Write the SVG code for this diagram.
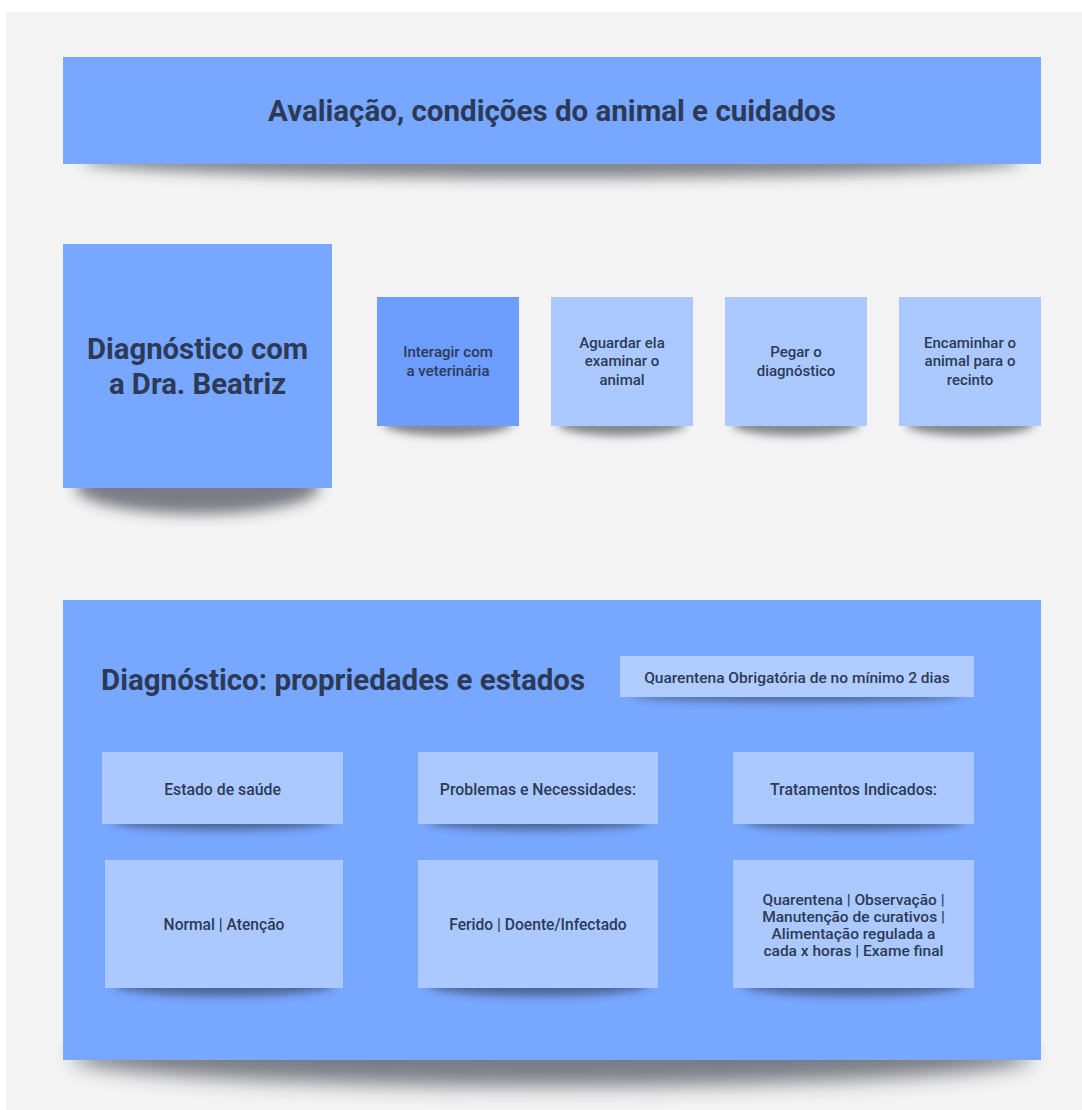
<svg xmlns="http://www.w3.org/2000/svg" width="1082" height="1110" viewBox="0 0 1082 1110">
  <defs>
    <style>
      .t { font-family: Roboto, "Liberation Sans", sans-serif; fill: #2c3a57; text-anchor: middle; }
      .h { font-weight: 700; }
      .m { font-weight: 500; }
      .blue { fill: #78a7ff; }
      .deep { fill: #6d9dff; }
      .pale { fill: #abc9ff; }
      .shade { fill: #2a2f3d; }
    </style>
    <filter id="blur-s" x="-20%" y="-100%" width="140%" height="300%">
      <feGaussianBlur stdDeviation="4"/>
    </filter>
    <filter id="blur-m" x="-20%" y="-100%" width="140%" height="300%">
      <feGaussianBlur stdDeviation="7"/>
    </filter>
    <filter id="blur-l" x="-20%" y="-100%" width="140%" height="300%">
      <feGaussianBlur stdDeviation="10"/>
    </filter>
  </defs>

  <!-- canvas -->
  <rect x="0" y="0" width="1082" height="1110" fill="#ffffff"/>
  <rect x="6" y="12" width="1076" height="1098" fill="#f3f3f3"/>

  <!-- banner -->
  <g id="banner">
    <ellipse class="shade" cx="552" cy="161" rx="470" ry="17" opacity="0.55" filter="url(#blur-m)"/>
    <rect class="blue" x="63" y="57" width="978" height="107"/>
    <text class="t h" x="552" y="121" font-size="29.5">Avaliação, condições do animal e cuidados</text>
  </g>

  <!-- main step -->
  <g id="diagnostico-dra">
    <ellipse class="shade" cx="197.5" cy="487" rx="122" ry="27" opacity="0.6" filter="url(#blur-m)"/>
    <rect class="blue" x="63" y="244" width="269" height="244"/>
    <text class="t h" x="197.5" y="359" font-size="29.3">Diagnóstico com</text>
    <text class="t h" x="197.5" y="394" font-size="29.3">a Dra. Beatriz</text>
  </g>

  <!-- steps -->
  <g id="interagir">
    <ellipse class="shade" cx="448" cy="424" rx="64" ry="12" opacity="0.55" filter="url(#blur-s)"/>
    <rect class="deep" x="377" y="297" width="142" height="129"/>
    <text class="t m" x="448" y="357" font-size="15">Interagir com</text>
    <text class="t m" x="448" y="375.5" font-size="15">a veterinária</text>
  </g>
  <g id="aguardar">
    <ellipse class="shade" cx="622" cy="424" rx="64" ry="12" opacity="0.55" filter="url(#blur-s)"/>
    <rect class="pale" x="551" y="297" width="142" height="129"/>
    <text class="t m" x="622" y="347.5" font-size="15">Aguardar ela</text>
    <text class="t m" x="622" y="366" font-size="15">examinar o</text>
    <text class="t m" x="622" y="384.5" font-size="15">animal</text>
  </g>
  <g id="pegar">
    <ellipse class="shade" cx="796" cy="424" rx="64" ry="12" opacity="0.55" filter="url(#blur-s)"/>
    <rect class="pale" x="725" y="297" width="142" height="129"/>
    <text class="t m" x="796" y="357" font-size="15">Pegar o</text>
    <text class="t m" x="796" y="375.5" font-size="15">diagnóstico</text>
  </g>
  <g id="encaminhar">
    <ellipse class="shade" cx="970" cy="424" rx="64" ry="12" opacity="0.55" filter="url(#blur-s)"/>
    <rect class="pale" x="899" y="297" width="142" height="129"/>
    <text class="t m" x="970" y="347.5" font-size="15">Encaminhar o</text>
    <text class="t m" x="970" y="366" font-size="15">animal para o</text>
    <text class="t m" x="970" y="384.5" font-size="15">recinto</text>
  </g>

  <!-- properties panel -->
  <g id="propriedades">
    <ellipse class="shade" cx="552" cy="1057" rx="480" ry="29" opacity="0.6" filter="url(#blur-l)"/>
    <rect class="blue" x="63" y="600" width="978" height="460"/>
    <text class="t h" x="101" y="690" font-size="29.5" style="text-anchor:start">Diagnóstico: propriedades e estados</text>
  </g>

  <g id="quarentena">
    <ellipse class="shade" cx="797" cy="695" rx="165" ry="7" opacity="0.5" filter="url(#blur-s)"/>
    <rect x="620" y="656" width="354" height="41" fill="#b1ccff"/>
    <text class="t m" x="797" y="683" font-size="15.5">Quarentena Obrigatória de no mínimo 2 dias</text>
  </g>

  <g id="estado-saude">
    <ellipse class="shade" cx="222.5" cy="821" rx="110" ry="9" opacity="0.55" filter="url(#blur-s)"/>
    <rect class="pale" x="102" y="752" width="241" height="72"/>
    <text class="t m" x="222.5" y="794.5" font-size="15.8">Estado de saúde</text>
  </g>
  <g id="problemas">
    <ellipse class="shade" cx="538" cy="821" rx="110" ry="9" opacity="0.55" filter="url(#blur-s)"/>
    <rect class="pale" x="418" y="752" width="240" height="72"/>
    <text class="t m" x="538" y="794.5" font-size="15.8">Problemas e Necessidades:</text>
  </g>
  <g id="tratamentos">
    <ellipse class="shade" cx="853.5" cy="821" rx="110" ry="9" opacity="0.55" filter="url(#blur-s)"/>
    <rect class="pale" x="733" y="752" width="241" height="72"/>
    <text class="t m" x="853.5" y="794.5" font-size="15.8">Tratamentos Indicados:</text>
  </g>

  <g id="estado-valores">
    <ellipse class="shade" cx="224" cy="985" rx="110" ry="11" opacity="0.55" filter="url(#blur-s)"/>
    <rect class="pale" x="105" y="860" width="238" height="128"/>
    <text class="t m" x="224" y="929.5" font-size="15.6">Normal | Atenção</text>
  </g>
  <g id="problemas-valores">
    <ellipse class="shade" cx="538" cy="985" rx="110" ry="11" opacity="0.55" filter="url(#blur-s)"/>
    <rect class="pale" x="418" y="860" width="240" height="128"/>
    <text class="t m" x="538" y="929.5" font-size="15.6">Ferido | Doente/Infectado</text>
  </g>
  <g id="tratamentos-valores">
    <ellipse class="shade" cx="853.5" cy="985" rx="110" ry="11" opacity="0.55" filter="url(#blur-s)"/>
    <rect class="pale" x="733" y="860" width="241" height="128"/>
    <text class="t m" x="853.5" y="905" font-size="15.5">Quarentena | Observação |</text>
    <text class="t m" x="853.5" y="922" font-size="15.5">Manutenção de curativos |</text>
    <text class="t m" x="853.5" y="939" font-size="15.5">Alimentação regulada a</text>
    <text class="t m" x="853.5" y="956" font-size="15.5">cada x horas | Exame final</text>
  </g>

  <!-- no connectors in this board -->
  <g id="connectors"/>
</svg>
